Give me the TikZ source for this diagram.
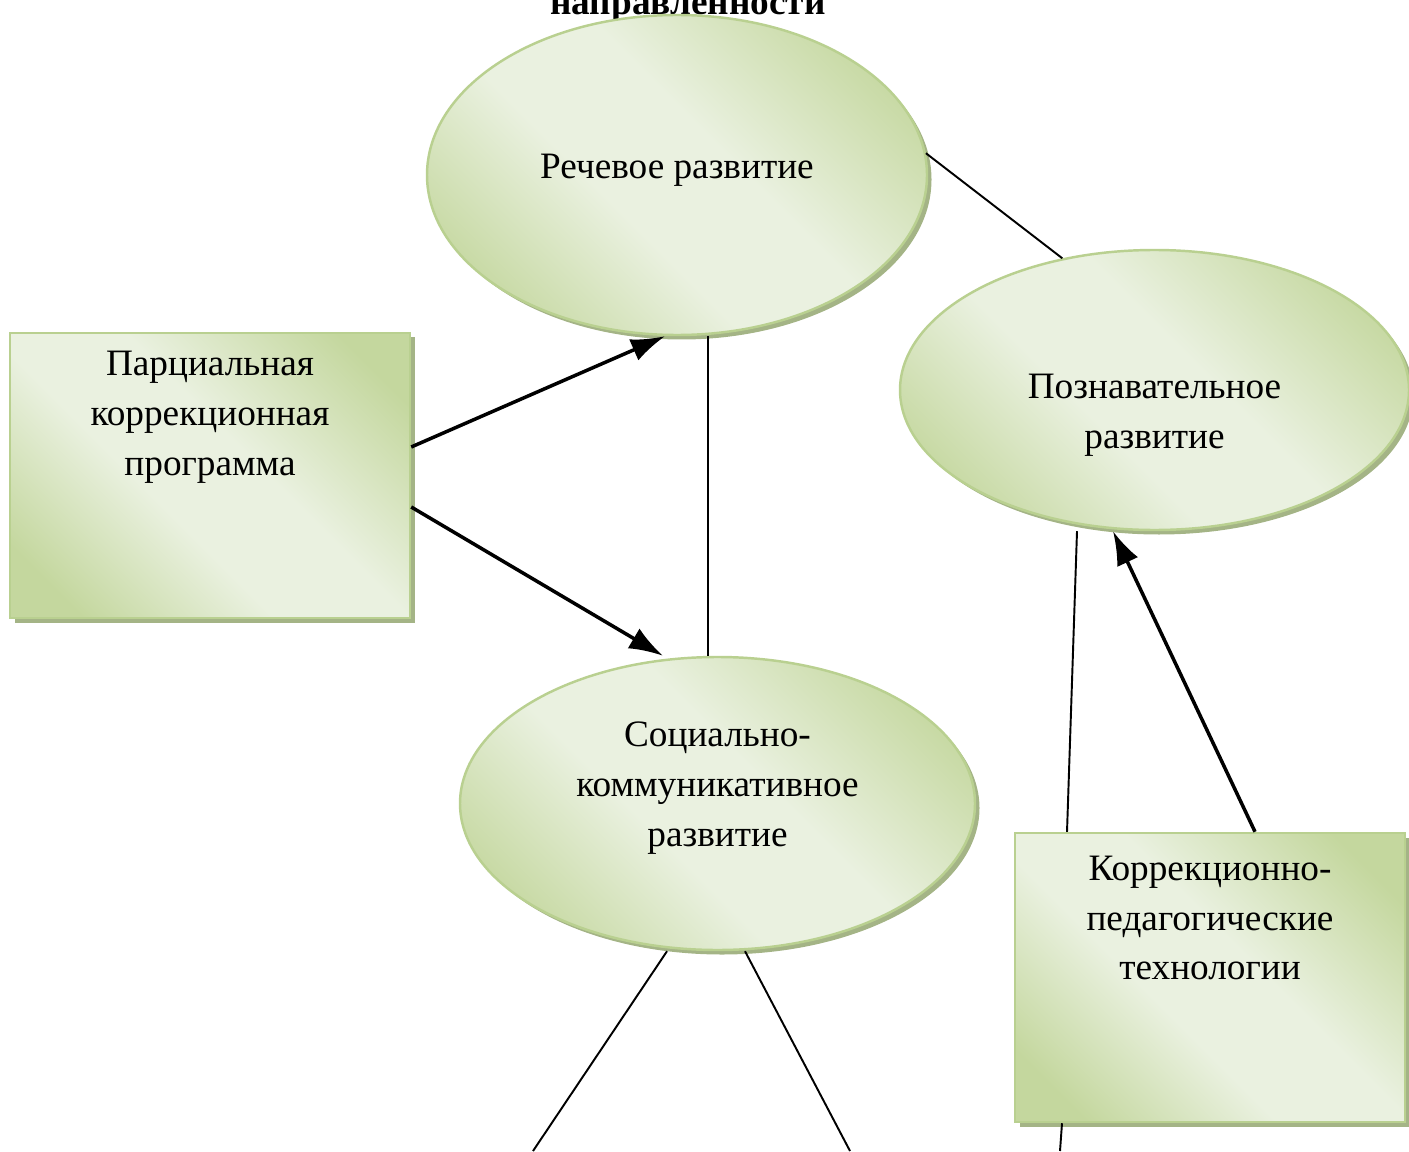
\documentclass[tikz,border=0pt]{standalone}
\usepackage{fontspec}
\setmainfont{Liberation Serif}
\usetikzlibrary{shapes.geometric,shadows,arrows.meta}

\definecolor{leafdark}{HTML}{C4D79E}
\definecolor{leaflight}{HTML}{EAF1E0}
\definecolor{leafedge}{HTML}{B9D090}
\definecolor{leafshade}{HTML}{A4B486}
\pgfdeclareverticalshading{leafy}{100bp}{color(0bp)=(leafdark); color(22bp)=(leafdark); color(42bp)=(leaflight); color(56bp)=(leaflight); color(78bp)=(leafdark); color(100bp)=(leafdark)}

\begin{document}
\begin{tikzpicture}[
		font=\fontsize{10.6}{14.2}\selectfont,
		green/.style={draw=leafedge, line width=0.7pt, shading=leafy, shading angle=-45,
			drop shadow={shadow xshift=0.045cm, shadow yshift=-0.045cm, fill=leafshade, opacity=1}},
		blob/.style={green, ellipse, inner sep=0pt},
		box/.style={green, rectangle, inner sep=0pt},
		link/.style={line width=0.55pt},
		push/.style={line width=1pt, -{Latex[length=3.4mm,width=2.3mm]}}
	]
	\useasboundingbox (0,0) rectangle (14.09,11.51);
	
	\node[font=\fontsize{10.6}{14.2}\selectfont\bfseries, anchor=base] (title) at (6.88,11.36) {направленности};
	
	\node[blob, minimum width=5.0cm, minimum height=3.2cm, label={[yshift=0.05cm]center:Речевое развитие}] (rech) at (6.77,9.76) {};
	\node[blob, minimum width=5.09cm, minimum height=2.8cm, label={[yshift=-0.25cm, align=center]center:Познавательное\\развитие}] (pozn) at (11.545,7.61) {};
	\node[blob, minimum width=5.15cm, minimum height=2.93cm, label={[yshift=0.155cm, align=center]center:Социально-\\коммуникативное\\развитие}] (soc) at (7.175,3.475) {};
	
	\node[box, minimum width=4.0cm, minimum height=2.85cm, label={[yshift=0.585cm, align=center]center:Парциальная\\коррекционная\\программа}] (parc) at (2.10,6.755) {};
	\node[box, minimum width=3.9cm, minimum height=2.89cm, label={[yshift=0.595cm, align=center]center:Коррекционно-\\педагогические\\технологии}] (tech) at (12.10,1.735) {};
	
	\coordinate (downL) at (5.33,0);
	\coordinate (downR) at (8.50,0);
	\coordinate (downT) at (10.60,0);
	
	\draw[push] ([yshift=0.285cm]parc.east) -- ([xshift=-0.12cm]rech.south);
	\draw[push] ([yshift=-0.315cm]parc.east) -- ([xshift=-0.545cm]soc.north);
	\draw[push] ([xshift=0.45cm]tech.north) -- ([xshift=-0.415cm]pozn.south);
	
	\draw[link] ([xshift=0.31cm]rech.south) -- ([xshift=-0.095cm]soc.north);
	\draw[link] (rech.5) -- (pozn.125);
	\draw[link] ([xshift=-0.775cm]pozn.south) -- ([xshift=-1.43cm]tech.north);
	\draw[link] ([xshift=-0.505cm]soc.south) -- (downL);
	\draw[link] ([xshift=0.275cm]soc.south) -- (downR);
	\draw[link] ([xshift=-1.48cm]tech.south) -- (downT);
\end{tikzpicture}
\end{document}
